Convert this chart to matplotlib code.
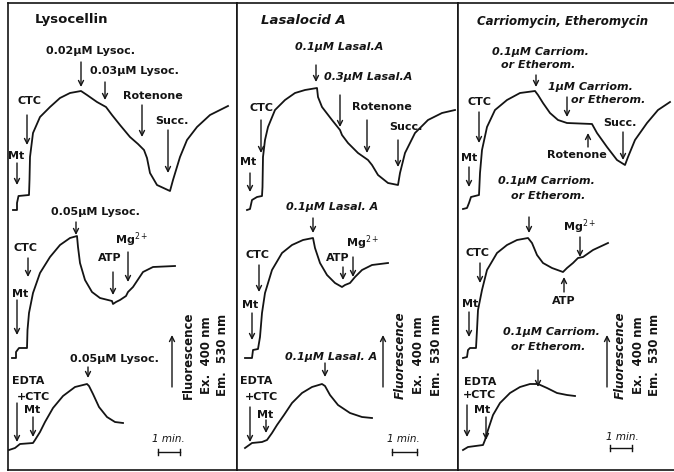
import matplotlib.pyplot as plt

# ---- traces: time (arbitrary, 22 units = 1 min) vs fluorescence (a.u.) ----
# Lysocellin panel
lys_a_t = [5, 9, 9, 10.5, 21, 21.5, 22, 25, 32, 42, 52, 62, 73, 79, 89, 98, 104, 112, 122, 130, 136,
           139, 142, 149, 162, 165, 172, 179, 189, 202, 220]
lys_a_f = [260, 260, 267, 274, 275, 290, 313, 337, 353, 363, 372, 377, 379, 375, 368, 363, 355, 345, 333,
           326, 320, 312, 297, 285, 279, 290, 313, 330, 343, 355, 364]
lys_b_t = [4, 8, 8, 11, 19, 19.5, 21, 25, 32, 42, 52, 62, 69, 70, 72, 77, 84, 92, 104, 105, 108, 112,
           118, 120, 125, 135, 145, 167]
lys_b_f = [112, 112, 118, 122, 122, 140, 157, 177, 197, 213, 225, 232, 234, 223, 207, 190, 178, 172, 169,
           166, 168, 170, 174, 178, 183, 198, 203, 204]
lys_c_t = [1, 7, 12, 25, 27, 32, 37, 45, 55, 67, 79, 81, 85, 91, 99, 107, 115]
lys_c_f = [20, 22, 26, 27, 30, 38, 48, 62, 74, 83, 86, 84, 76, 63, 53, 48, 47]

# Lasalocid A panel
las_a_t = [10, 13, 15, 20, 25, 25.5, 26, 28, 31, 38, 48, 58, 68, 80, 81, 85, 95, 103, 105, 111, 121, 131,
           135, 141, 151, 161, 163, 168, 178, 191, 205, 218]
las_a_f = [260, 261, 270, 273, 274, 283, 313, 330, 343, 360, 370, 377, 380, 382, 373, 363, 350, 340, 335,
           327, 317, 310, 305, 295, 287, 285, 297, 317, 337, 350, 357, 360]
las_b_t = [8, 15, 16, 21, 23, 25, 28, 35, 45, 55, 66, 76, 78, 83, 90, 98, 105, 108, 113, 118, 125, 135, 151]
las_b_f = [112, 112, 120, 121, 133, 157, 177, 200, 217, 225, 230, 232, 222, 207, 195, 187, 183, 185, 187,
           193, 200, 205, 207]
las_c_t = [8, 15, 25, 30, 35, 40, 47, 55, 65, 75, 85, 88, 93, 101, 113, 125, 135]
las_c_f = [22, 27, 28, 30, 37, 45, 55, 67, 77, 83, 86, 84, 75, 65, 57, 53, 52]

# Carriomycin / Etheromycin panel
car_a_t = [5, 9, 11, 13, 21, 22, 24, 29, 37, 49, 62, 77, 80, 85, 92, 100, 109, 134, 139, 149, 159, 167,
           170, 177, 189, 200, 212]
car_a_f = [261, 262, 267, 273, 275, 297, 320, 343, 360, 370, 377, 379, 375, 367, 357, 350, 347, 346, 337,
           323, 310, 305, 313, 330, 347, 360, 368]
car_b_t = [5, 9, 10, 12, 18, 19, 20, 24, 29, 39, 49, 59, 70, 74, 79, 85, 94, 105, 109, 115, 120, 125, 135, 150]
car_b_f = [112, 113, 120, 122, 122, 140, 160, 180, 200, 217, 225, 230, 232, 227, 215, 207, 202, 198, 202,
           207, 212, 213, 220, 227]
car_c_t = [5, 10, 25, 27, 30, 35, 42, 52, 62, 72, 80, 89, 99, 109, 117]
car_c_f = [20, 23, 25, 30, 40, 55, 67, 77, 83, 86, 86, 82, 77, 75, 74]

# ---- annotations: (text, t, f) and arrows (t, f_tail, f_tip) ----
lys_labels = [("0.02\u00b5M Lysoc.", 82, 419), ("0.03\u00b5M Lysoc.", 126, 399), ("Rotenone", 145, 374),
              ("Succ.", 164, 349), ("CTC", 21, 369), ("Mt", 8, 314),
              ("0.05\u00b5M Lysoc.", 87, 258), ("CTC", 17, 222), ("Mt", 12, 176), ("ATP", 102, 212),
              ("Mg$^{2+}$", 124, 230),
              ("EDTA", 20, 89), ("+CTC", 25, 73), ("Mt", 24, 60), ("0.05\u00b5M Lysoc.", 106, 111)]
lys_arrows = [(73, 408, 383), (97, 388, 370), (134, 365, 333), (160, 340, 297), (19, 355, 325), (9, 307, 285),
              (68, 248, 235), (20, 212, 193), (9, 170, 135), (105, 198, 175), (120, 218, 188),
              (9, 67, 28), (25, 53, 33), (80, 103, 92)]

las_labels = [("0.1\u00b5M Lasal.A", 102, 423), ("0.3\u00b5M Lasal.A", 131, 393), ("Rotenone", 145, 363),
              ("Succ.", 169, 343), ("CTC", 24, 362), ("Mt", 11, 308),
              ("0.1\u00b5M Lasal. A", 95, 263), ("CTC", 21, 215), ("Mt", 13, 165), ("ATP", 101, 212),
              ("Mg$^{2+}$", 126, 227),
              ("EDTA", 19, 89), ("+CTC", 25, 73), ("Mt", 28, 55), ("0.1\u00b5M Lasal. A", 94, 113)]
las_arrows = [(79, 405, 388), (103, 375, 343), (130, 350, 317), (161, 330, 303), (24, 350, 317), (13, 297, 278),
              (76, 252, 237), (22, 205, 178), (15, 157, 130), (106, 203, 190), (116, 213, 193),
              (13, 63, 28), (29, 50, 37), (88, 107, 93)]

car_labels = [("0.1\u00b5M Carriom.", 82, 418), ("or Etherom.", 80, 405),
              ("1\u00b5M Carriom.", 132, 383), ("or Etherom.", 150, 370), ("Succ.", 162, 347),
              ("Rotenone", 119, 315), ("CTC", 21, 368), ("Mt", 11, 312),
              ("0.1\u00b5M Carriom.", 88, 289), ("or Etherom.", 90, 274), ("Mg$^{2+}$", 122, 243),
              ("CTC", 20, 217), ("Mt", 12, 166), ("ATP", 106, 169),
              ("0.1\u00b5M Carriom.", 93, 138), ("or Etherom.", 90, 123),
              ("EDTA", 22, 88), ("+CTC", 22, 75), ("Mt", 24, 60)]
car_arrows = [(78, 395, 383), (109, 373, 353), (165, 338, 310), (130, 323, 337), (21, 358, 327), (11, 303, 283),
              (71, 253, 237), (122, 233, 213), (22, 207, 187), (11, 158, 133), (106, 178, 193),
              (80, 100, 83), (9, 65, 33), (28, 53, 30)]

panels = [
    dict(title="Lysocellin", title_t=63, title_f=450, title_fs=9.5, width=229, left=8,
         traces=[(lys_a_t, lys_a_f), (lys_b_t, lys_b_f), (lys_c_t, lys_c_f)],
         labels=lys_labels, arrows=lys_arrows, side_t=[180, 199, 214], up_t=164,
         scale=(150, 172, 18), scale_lbl=(160, 31), italic=False),
    dict(title="Lasalocid A", title_t=66, title_f=450, title_fs=9.5, width=221, left=237,
         traces=[(las_a_t, las_a_f), (las_b_t, las_b_f), (las_c_t, las_c_f)],
         labels=las_labels, arrows=las_arrows, side_t=[163, 181, 200], up_t=146,
         scale=(155, 180, 18), scale_lbl=(166, 31), italic=True),
    dict(title="Carriomycin, Etheromycin", title_t=105, title_f=448, title_fs=8.5, width=216, left=458,
         traces=[(car_a_t, car_a_f), (car_b_t, car_b_f), (car_c_t, car_c_f)],
         labels=car_labels, arrows=car_arrows, side_t=[162, 180, 197], up_t=149,
         scale=(152, 174, 22), scale_lbl=(164, 33), italic=True),
]

W, H = 674, 472
fig = plt.figure(figsize=(W / 100, H / 100), dpi=100)
ink = "#141414"
fs = 8

for p in panels:
    ax = fig.add_axes([p["left"] / W, 2 / H, p["width"] / W, 467 / H])
    ax.set_xlim(0, p["width"])
    ax.set_ylim(0, 467)
    ax.set_xticks([])
    ax.set_yticks([])
    for sp in ax.spines.values():
        sp.set_color(ink)
        sp.set_linewidth(1.2)
    if p["left"] > 400:
        ax.spines["right"].set_visible(False)
    style = "italic" if p["italic"] else "normal"

    ax.text(p["title_t"], p["title_f"], p["title"], ha="center", va="center",
            fontsize=p["title_fs"], fontweight="bold", style=style, color=ink)
    for t, f in p["traces"]:
        ax.plot(t, f, color=ink, lw=1.3, solid_joinstyle="round")
    for txt, t, f in p["labels"]:
        ax.text(t, f, txt, ha="center", va="center", fontsize=fs, fontweight="bold",
                style=style if ("\u00b5" in txt or "Etherom" in txt) else "normal", color=ink)
    for t, f0, f1 in p["arrows"]:
        ax.annotate("", xy=(t, f1), xytext=(t, f0),
                    arrowprops=dict(arrowstyle="->", color=ink, lw=1.0, shrinkA=0, shrinkB=0,
                                    mutation_scale=9))
    # fluorescence axis note
    side = ["Fluorescence", "Ex.  400 nm", "Em.  530 nm"]
    for txt, t in zip(side, p["side_t"]):
        ax.text(t, 115, txt, rotation=90, ha="center", va="center", fontsize=8.5,
                fontweight="bold", style="italic" if txt == "Fluorescence" and p["italic"] else "normal",
                color=ink)
    ax.annotate("", xy=(p["up_t"], 135), xytext=(p["up_t"], 83),
                arrowprops=dict(arrowstyle="->", color=ink, lw=1.0, shrinkA=0, shrinkB=0,
                                mutation_scale=9))
    # 1 min scale bar
    x0, x1, yb = p["scale"]
    ax.plot([x0, x1], [yb, yb], color=ink, lw=1.0)
    ax.plot([x0, x0], [yb - 3, yb + 3], color=ink, lw=1.0)
    ax.plot([x1, x1], [yb - 3, yb + 3], color=ink, lw=1.0)
    ax.text(p["scale_lbl"][0], p["scale_lbl"][1], "1 min.", ha="center", va="center",
            fontsize=7.5, style="italic", color=ink)

fig.savefig("out.png", dpi=100)
